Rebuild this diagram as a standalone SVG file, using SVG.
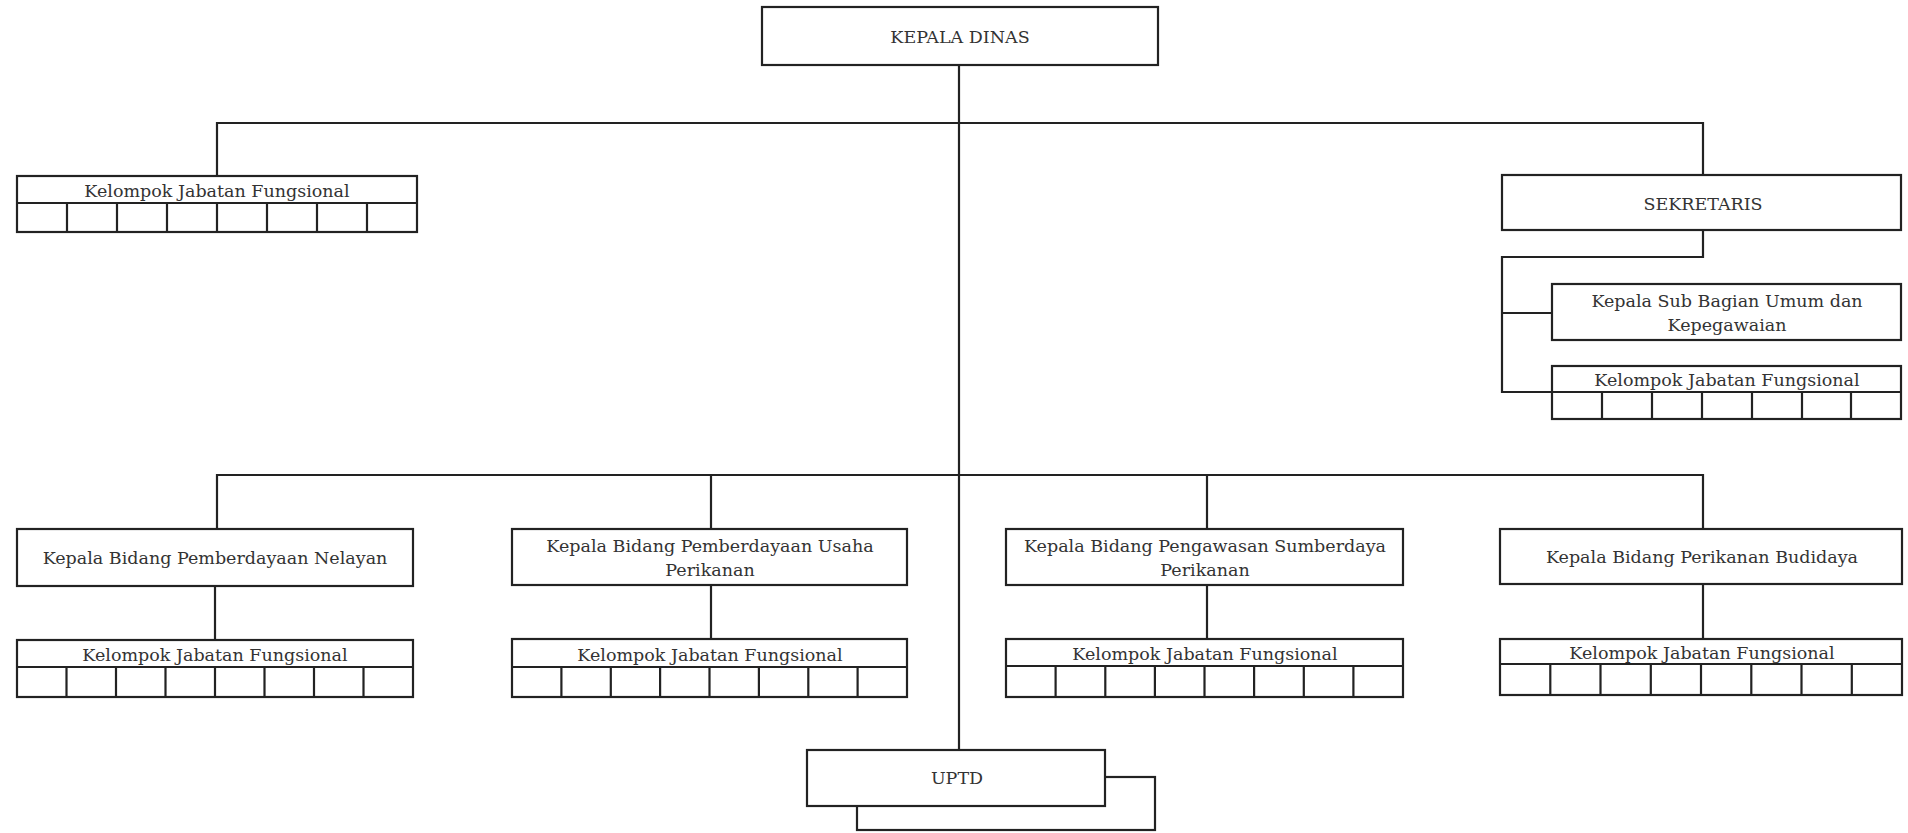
<svg xmlns="http://www.w3.org/2000/svg" width="1908" height="833" viewBox="0 0 1908 833">
<style>
.box{fill:#fff;stroke:#222;stroke-width:2.2}
.ln{fill:none;stroke:#222;stroke-width:2.2}
.cell{fill:none;stroke:#222;stroke-width:2.2}
text{font-family:"DejaVu Serif","Liberation Serif",serif;font-size:17.5px;fill:#333;text-anchor:middle}
</style>
<rect width="1908" height="833" fill="#fff"/>
<g id="connectors">
<path class="ln" d="M959 65 V750"/>
<path class="ln" d="M217 176 V123 H1703 V175"/>
<path class="ln" d="M217 529 V475 H1703 V529"/>
<path class="ln" d="M711 475 V529"/>
<path class="ln" d="M1207 475 V529"/>
<path class="ln" d="M1703 230 V257 H1502 V392 H1552"/>
<path class="ln" d="M1502 313 H1552"/>
<path class="ln" d="M215 586 V640"/>
<path class="ln" d="M711 585 V639"/>
<path class="ln" d="M1207 585 V639"/>
<path class="ln" d="M1703 584 V639"/>
</g>
<g id="kepala-dinas">
<rect class="box" x="762" y="7" width="396" height="58"/>
<text x="960" y="43">KEPALA DINAS</text>
</g>
<g id="kjf-top-left">
<rect class="box" x="17" y="176" width="400" height="56"/>
<path class="cell" d="M17 203 H417 M67 203 V232 M117 203 V232 M167 203 V232 M217 203 V232 M267 203 V232 M317 203 V232 M367 203 V232"/>
<text x="217" y="197">Kelompok Jabatan Fungsional</text>
</g>
<g id="sekretaris">
<rect class="box" x="1502" y="175" width="399" height="55"/>
<text x="1703" y="210">SEKRETARIS</text>
</g>
<g id="kasubag">
<rect class="box" x="1552" y="284" width="349" height="56"/>
<text x="1727" y="307">Kepala Sub Bagian Umum dan</text>
<text x="1727" y="331">Kepegawaian</text>
</g>
<g id="kjf-sekretaris">
<rect class="box" x="1552" y="366" width="349" height="53"/>
<path class="cell" d="M1552 392 H1901 M1602 392 V419 M1652 392 V419 M1702 392 V419 M1752 392 V419 M1802 392 V419 M1851 392 V419"/>
<text x="1727" y="386">Kelompok Jabatan Fungsional</text>
</g>
<g id="bidang-nelayan">
<rect class="box" x="17" y="529" width="396" height="57"/>
<text x="215" y="564">Kepala Bidang Pemberdayaan Nelayan</text>
</g>
<g id="kjf-nelayan">
<rect class="box" x="17" y="640" width="396" height="57"/>
<path class="cell" d="M17 667 H413 M66.5 667 V697 M116 667 V697 M165.5 667 V697 M215 667 V697 M264.5 667 V697 M314 667 V697 M363.5 667 V697"/>
<text x="215" y="661">Kelompok Jabatan Fungsional</text>
</g>
<g id="bidang-usaha">
<rect class="box" x="512" y="529" width="395" height="56"/>
<text x="710" y="552">Kepala Bidang Pemberdayaan Usaha</text>
<text x="710" y="576">Perikanan</text>
</g>
<g id="kjf-usaha">
<rect class="box" x="512" y="639" width="395" height="58"/>
<path class="cell" d="M512 667 H907 M561.4 667 V697 M610.8 667 V697 M660.1 667 V697 M709.5 667 V697 M758.9 667 V697 M808.3 667 V697 M857.6 667 V697"/>
<text x="710" y="661">Kelompok Jabatan Fungsional</text>
</g>
<g id="bidang-pengawasan">
<rect class="box" x="1006" y="529" width="397" height="56"/>
<text x="1205" y="552">Kepala Bidang Pengawasan Sumberdaya</text>
<text x="1205" y="576">Perikanan</text>
</g>
<g id="kjf-pengawasan">
<rect class="box" x="1006" y="639" width="397" height="58"/>
<path class="cell" d="M1006 666 H1403 M1055.6 666 V697 M1105.3 666 V697 M1154.9 666 V697 M1204.5 666 V697 M1254.1 666 V697 M1303.8 666 V697 M1353.4 666 V697"/>
<text x="1205" y="660">Kelompok Jabatan Fungsional</text>
</g>
<g id="bidang-budidaya">
<rect class="box" x="1500" y="529" width="402" height="55"/>
<text x="1702" y="563">Kepala Bidang Perikanan Budidaya</text>
</g>
<g id="kjf-budidaya">
<rect class="box" x="1500" y="639" width="402" height="56"/>
<path class="cell" d="M1500 664 H1902 M1550.3 664 V695 M1600.5 664 V695 M1650.8 664 V695 M1701 664 V695 M1751.3 664 V695 M1801.5 664 V695 M1851.8 664 V695"/>
<text x="1702" y="659">Kelompok Jabatan Fungsional</text>
</g>
<g id="uptd">
<rect class="box" x="857" y="777" width="298" height="53"/>
<rect class="box" x="807" y="750" width="298" height="56"/>
<text x="957" y="784">UPTD</text>
</g>
</svg>
